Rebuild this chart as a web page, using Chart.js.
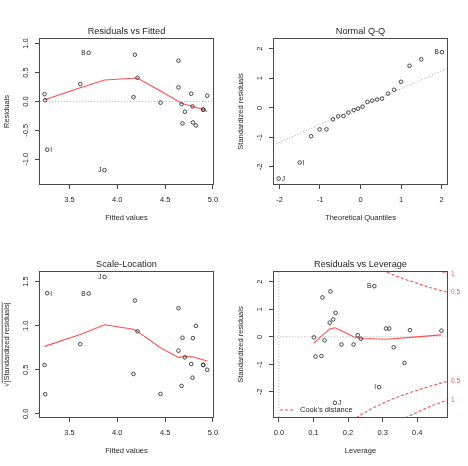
<!DOCTYPE html>
<html>
<head>
<meta charset="utf-8">
<script src="https://cdn.jsdelivr.net/npm/chart.js@4.4.0/dist/chart.umd.min.js"></script>
<style>
  body { margin: 0; background: #fff; }
  #wrap { position: relative; width: 468px; height: 466px; }
  canvas { position: absolute; }
</style>
</head>
<body>
<div id="wrap">
  <canvas id="c1" width="234" height="233" style="left:0;top:0"></canvas>
  <canvas id="c2" width="234" height="233" style="left:234px;top:0"></canvas>
  <canvas id="c3" width="234" height="233" style="left:0;top:233px"></canvas>
  <canvas id="c4" width="234" height="233" style="left:234px;top:233px"></canvas>
</div>
<script>
// ---- data ----
const fitted     = [3.238, 3.245, 3.266, 3.612, 3.700, 3.866, 4.169, 4.184, 4.211, 4.452, 4.640, 4.640, 4.672, 4.682, 4.707, 4.773, 4.787, 4.791, 4.822, 4.899, 4.899, 4.941];
const residuals  = [0.126, 0.02, -0.835, 0.30, 0.842, -1.188, 0.074, 0.808, 0.41, -0.022, 0.704, 0.242, -0.047, -0.38, -0.178, 0.133, -0.086, -0.363, -0.415, -0.138, -0.145, 0.099];
const sqrtStdRes = [0.554, 0.223, 1.368, 0.79, 1.365, 1.553, 0.452, 1.285, 0.935, 0.226, 1.198, 0.716, 0.317, 0.863, 0.641, 0.565, 0.41, 0.859, 0.998, 0.554, 0.556, 0.50];
const fitLabels  = ['', '', 'I', '', 'B', 'J', '', '', '', '', '', '', '', '', '', '', '', '', '', '', '', ''];

const resSmoothX = [3.238, 3.612, 3.866, 4.211, 4.452, 4.672, 4.787, 4.899, 4.941];
const resSmoothY = [0.03, 0.235, 0.37, 0.405, 0.18, -0.03, -0.086, -0.138, -0.173];

const qqTheo   = [-2.02, -1.5, -1.22, -1.01, -0.84, -0.68, -0.55, -0.42, -0.3, -0.17, -0.06, 0.05, 0.17, 0.29, 0.41, 0.53, 0.68, 0.83, 1.0, 1.21, 1.5, 2.01];
const qqStd    = [-2.39, -1.85, -0.96, -0.73, -0.73, -0.39, -0.29, -0.28, -0.16, -0.08, -0.03, 0.04, 0.20, 0.24, 0.28, 0.31, 0.48, 0.61, 0.88, 1.42, 1.64, 1.88];
const qqLabels = ['J', 'I', '', '', '', '', '', '', '', '', '', '', '', '', '', '', '', '', '', '', '', 'B'];
const qqLineX  = [-2.3, 2.3];
const qqLineY  = [-1.35, 1.43];

const scaleSmoothX = [3.238, 3.612, 3.866, 4.169, 4.211, 4.452, 4.640, 4.707, 4.787, 4.941];
const scaleSmoothY = [0.765, 0.90, 1.01, 0.96, 0.935, 0.75, 0.64, 0.65, 0.647, 0.60];

const leverage  = [0.101, 0.106, 0.123, 0.126, 0.132, 0.147, 0.149, 0.157, 0.162, 0.164, 0.181, 0.216, 0.228, 0.237, 0.276, 0.29, 0.31, 0.319, 0.332, 0.363, 0.379, 0.47];
const levStd    = [-0.02, -0.72, -0.70, 1.43, -0.13, 0.51, 1.65, 0.63, -2.40, 0.87, -0.28, -0.28, 0.06, -0.07, 1.84, -1.83, 0.30, 0.30, -0.38, -0.95, 0.24, 0.22];
const levLabels = ['', '', '', '', '', '', '', '', 'J', '', '', '', '', '', 'B', 'I', '', '', '', '', '', ''];
const levSmoothX = [0.101, 0.126, 0.147, 0.162, 0.181, 0.216, 0.238, 0.31, 0.38, 0.47];
const levSmoothY = [-0.23, 0.06, 0.28, 0.33, 0.22, 0.0, -0.06, -0.09, -0.02, 0.07];

// Cook's distance contours (upper half; lower half is mirrored)
const cookX05 = [0.20, 0.22, 0.24, 0.27, 0.30, 0.33, 0.36, 0.40, 0.44, 0.49, 0.52];
const cookY05 = [3.16, 2.98, 2.81, 2.60, 2.42, 2.25, 2.11, 1.94, 1.78, 1.61, 1.52];
const cookX1  = [0.34, 0.36, 0.38, 0.40, 0.43, 0.46, 0.49, 0.52];
const cookY1  = [3.13, 2.98, 2.86, 2.74, 2.57, 2.42, 2.28, 2.15];
const cookLevels = ['0.5', '1'];
const cookLevelY = [1.62, 2.29];

const fittedTicks = [3.5, 4.0, 4.5, 5.0];
const fittedTickLabels = ['3.5', '4.0', '4.5', '5.0'];
const residTicks = [-1.0, -0.5, 0, 0.5, 1.0];
const residTickLabels = ['-1.0', '-0.5', '0.0', '0.5', '1.0'];
const unitTicks = [-2, -1, 0, 1, 2];
const unitTickLabels = ['-2', '-1', '0', '1', '2'];
const sqrtTicks = [0, 0.5, 1.0, 1.5];
const sqrtTickLabels = ['0.0', '0.5', '1.0', '1.5'];
const levTicks = [0, 0.1, 0.2, 0.3, 0.4];
const levTickLabels = ['0.0', '0.1', '0.2', '0.3', '0.4'];

// ---- styling ----
const FONT = '"Liberation Sans", Arial, sans-serif';
const INK = '#262626';
const BOX = '#4a4a4a';
const RED = 'rgb(255,80,80)';

const pts = (xs, ys) => xs.map((x, i) => ({ x: x, y: ys[i] }));

function pointSet(xs, ys) {
    return { data: pts(xs, ys), pointRadius: 1.8, pointBorderWidth: 0.9, borderColor: '#333', backgroundColor: 'rgba(0,0,0,0)', pointBackgroundColor: 'rgba(0,0,0,0)', clip: false };
}
function lineSet(xs, ys, color, dash, width) {
    return { data: pts(xs, ys), showLine: true, pointRadius: 0, borderColor: color, borderWidth: width || 1.1, borderDash: dash || [], tension: 0 };
}

function axis(min, max, ticks, size) {
    return {
        type: 'linear', min: min, max: max,
        afterBuildTicks: s => { s.ticks = ticks.map(v => ({ value: v })); },
        afterFit: s => { if (s.isHorizontal()) s.height = size; else s.width = size; },
        ticks: { display: false },
        grid: { drawOnChartArea: false, drawTicks: true, tickLength: 4, color: BOX, lineWidth: 1 },
        border: { display: false }
    };
}

function rotText(ctx, text, x, y) {
    ctx.save();
    ctx.translate(x, y);
    ctx.rotate(-Math.PI / 2);
    ctx.fillText(text, 0, 0);
    ctx.restore();
}

function panel(id, p) {
    const decor = {
        id: 'rdecor',
        afterDraw(chart) {
            const ctx = chart.ctx, a = chart.chartArea;
            const xs = chart.scales.x, ys = chart.scales.y;
            ctx.save();
            ctx.strokeStyle = BOX;
            ctx.lineWidth = 1;
            ctx.strokeRect(Math.round(a.left) + 0.5, Math.round(a.top) + 0.5, Math.round(a.right - a.left) - 1, Math.round(a.bottom - a.top) - 1);

            ctx.fillStyle = INK;
            ctx.textAlign = 'center';
            ctx.textBaseline = 'middle';
            ctx.font = '9.2px ' + FONT;
            ctx.fillText(p.title, (a.left + a.right) / 2, 31);

            ctx.font = '7.5px ' + FONT;
            p.xTicks.forEach((v, i) => ctx.fillText(p.xTickLabels[i], xs.getPixelForValue(v), 200));
            p.yTicks.forEach((v, i) => rotText(ctx, p.yTickLabels[i], 25.5, ys.getPixelForValue(v)));
            ctx.fillText(p.xTitle, (a.left + a.right) / 2, 218);

            const cy = (a.top + a.bottom) / 2;
            if (p.sqrtTitle) {
                ctx.save();
                ctx.translate(6.5, cy);
                ctx.rotate(-Math.PI / 2);
                const rad = '\u221A', rest = '|' + p.yTitle + '|';
                const w1 = ctx.measureText(rad).width, w2 = ctx.measureText(rest).width;
                const s = -(w1 + w2) / 2;
                ctx.textAlign = 'left';
                ctx.fillText(rad, s, 0);
                ctx.fillText(rest, s + w1, 0);
                ctx.strokeStyle = INK;
                ctx.lineWidth = 0.7;
                ctx.beginPath();
                ctx.moveTo(s + w1 - 0.5, -4.3);
                ctx.lineTo(s + w1 + w2, -4.3);
                ctx.stroke();
                ctx.restore();
            } else {
                rotText(ctx, p.yTitle, 6.5, cy);
            }

            // identified points, R style: label side from the labelled points' range
            const idx = p.labels.map((l, i) => l ? i : -1).filter(i => i >= 0);
            const lx = idx.map(i => p.px[i]);
            const mid = (Math.min(...lx) + Math.max(...lx)) / 2;
            ctx.font = '6.5px ' + FONT;
            idx.forEach(i => {
                const x = xs.getPixelForValue(p.px[i]), y = ys.getPixelForValue(p.py[i]) + 0.5;
                if (p.px[i] > mid) { ctx.textAlign = 'right'; ctx.fillText(p.labels[i], x - 3, y); }
                else { ctx.textAlign = 'left'; ctx.fillText(p.labels[i], x + 3, y); }
            });

            if (p.cook) {
                ctx.fillStyle = RED;
                ctx.textAlign = 'left';
                ctx.font = '6.5px ' + FONT;
                cookLevelY.forEach((v, i) => {
                    ctx.fillText(cookLevels[i], a.right + 3, ys.getPixelForValue(v));
                    ctx.fillText(cookLevels[i], a.right + 3, ys.getPixelForValue(-v));
                });
                ctx.strokeStyle = RED;
                ctx.lineWidth = 1.1;
                ctx.setLineDash([3, 2]);
                ctx.beginPath();
                ctx.moveTo(a.left + 7, a.bottom - 8);
                ctx.lineTo(a.left + 21, a.bottom - 8);
                ctx.stroke();
                ctx.setLineDash([]);
                ctx.fillStyle = INK;
                ctx.font = '7.5px ' + FONT;
                ctx.fillText("Cook's distance", a.left + 27, a.bottom - 8);
            }
            ctx.restore();
        }
    };

    return new Chart(document.getElementById(id), {
        type: 'scatter',
        data: { datasets: p.datasets },
        options: {
            responsive: false,
            animation: false,
            devicePixelRatio: 1,
            layout: { padding: { top: 38, right: 20, left: 0, bottom: 0 } },
            plugins: { legend: { display: false }, tooltip: { enabled: false } },
            scales: {
                x: axis(p.xMin, p.xMax, p.xTicks, 48),
                y: axis(p.yMin, p.yMax, p.yTicks, 39)
            }
        },
        plugins: [decor]
    });
}

panel('c1', {
    title: 'Residuals vs Fitted', xTitle: 'Fitted values', yTitle: 'Residuals',
    xMin: 3.18, xMax: 5.012, yMin: -1.445, yMax: 1.097,
    xTicks: fittedTicks, xTickLabels: fittedTickLabels, yTicks: residTicks, yTickLabels: residTickLabels,
    px: fitted, py: residuals, labels: fitLabels,
    datasets: [
        pointSet(fitted, residuals),
        lineSet(resSmoothX, resSmoothY, RED),
        lineSet([3.0, 5.2], [0, 0], '#b0b0b0', [1, 2], 1)
    ]
});

panel('c2', {
    title: 'Normal Q-Q', xTitle: 'Theoretical Quantiles', yTitle: 'Standardized residuals',
    xMin: -2.16, xMax: 2.16, yMin: -2.61, yMax: 2.36,
    xTicks: unitTicks, xTickLabels: unitTickLabels, yTicks: unitTicks, yTickLabels: unitTickLabels,
    px: qqTheo, py: qqStd, labels: qqLabels,
    datasets: [
        pointSet(qqTheo, qqStd),
        lineSet(qqLineX, qqLineY, '#a0a0a0', [1, 2], 1)
    ]
});

panel('c3', {
    title: 'Scale-Location', xTitle: 'Fitted values', yTitle: 'Standardized residuals', sqrtTitle: true,
    xMin: 3.18, xMax: 5.012, yMin: -0.047, yMax: 1.62,
    xTicks: fittedTicks, xTickLabels: fittedTickLabels, yTicks: sqrtTicks, yTickLabels: sqrtTickLabels,
    px: fitted, py: sqrtStdRes, labels: fitLabels,
    datasets: [
        pointSet(fitted, sqrtStdRes),
        lineSet(scaleSmoothX, scaleSmoothY, RED)
    ]
});

panel('c4', {
    title: 'Residuals vs Leverage', xTitle: 'Leverage', yTitle: 'Standardized residuals', cook: true,
    xMin: -0.017, xMax: 0.489, yMin: -2.95, yMax: 2.39,
    xTicks: levTicks, xTickLabels: levTickLabels, yTicks: unitTicks, yTickLabels: unitTickLabels,
    px: leverage, py: levStd, labels: levLabels,
    datasets: [
        pointSet(leverage, levStd),
        lineSet(levSmoothX, levSmoothY, RED),
        lineSet([-0.1, 0.6], [0, 0], '#b0b0b0', [1, 2], 1),
        lineSet([0, 0], [-4, 4], '#b0b0b0', [1, 2], 1),
        lineSet(cookX05, cookY05, RED, [3, 2]),
        lineSet(cookX05, cookY05.map(v => -v), RED, [3, 2]),
        lineSet(cookX1, cookY1, RED, [3, 2]),
        lineSet(cookX1, cookY1.map(v => -v), RED, [3, 2])
    ]
});
</script>
</body>
</html>
